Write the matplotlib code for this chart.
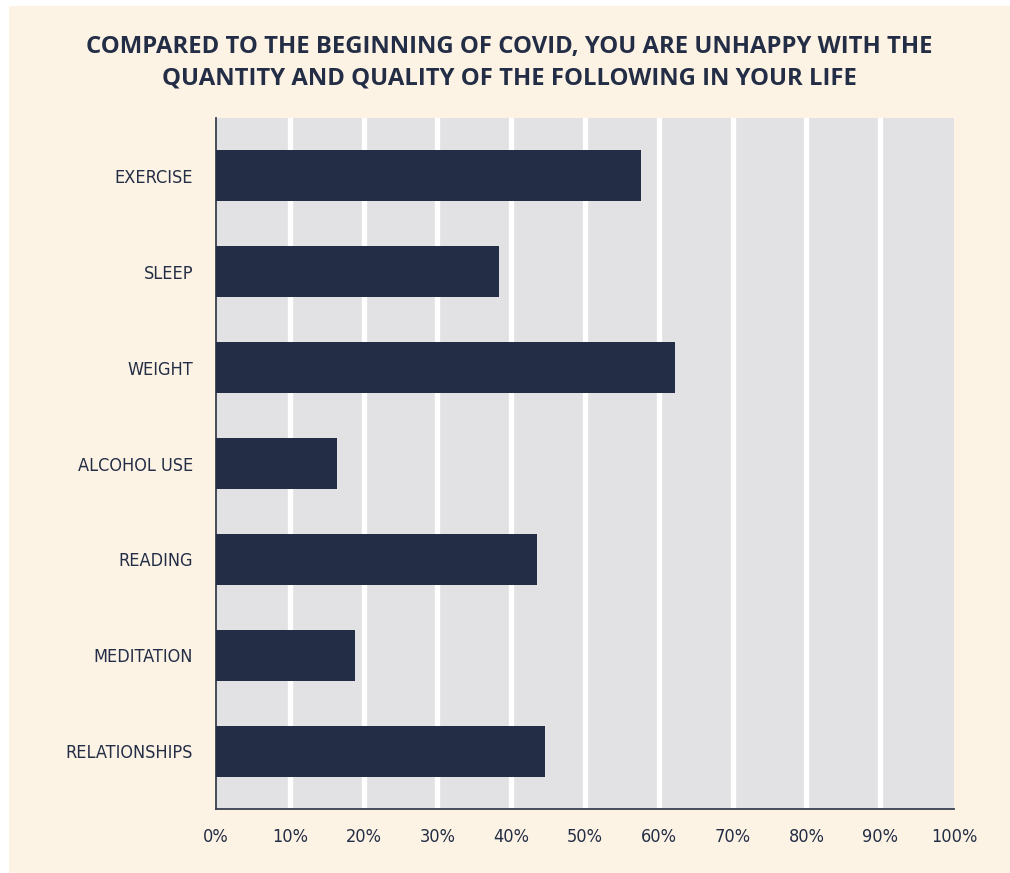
import matplotlib
matplotlib.use("Agg")
import matplotlib.pyplot as plt
from matplotlib.patches import Rectangle

categories = ["EXERCISE", "SLEEP", "WEIGHT", "ALCOHOL USE", "READING", "MEDITATION", "RELATIONSHIPS"]
values = [57.6, 38.3, 62.2, 16.4, 43.5, 18.8, 44.6]
xticks = [0, 10, 20, 30, 40, 50, 60, 70, 80, 90, 100]
title_lines = [
    "COMPARED TO THE BEGINNING OF COVID, YOU ARE UNHAPPY WITH THE",
    "QUANTITY AND QUALITY OF THE FOLLOWING IN YOUR LIFE",
]

NAVY = "#232d45"
CREAM = "#fcf3e5"
GRAY = "#e2e1e4"
NARROW = ["DejaVu Sans", "Liberation Sans"]

W, H = 1010, 873
fig = plt.figure(figsize=(W / 100, H / 100), dpi=100, facecolor="white")
# cream panel behind everything, white sliver on top/left like the source
fig.patches.append(Rectangle((9 / W, 0), 1, 1 - 6 / H, transform=fig.transFigure,
                             facecolor=CREAM, edgecolor="none", zorder=-10))

ax = fig.add_axes([216 / W, 64 / H, (954 - 216) / W, (809 - 118) / H])
ax.set_facecolor(GRAY)

y = list(range(len(categories)))
ax.barh(y, values, height=0.54, color=NAVY, zorder=3)
ax.set_ylim(len(categories) - 0.4, -0.6)
ax.set_xlim(0, 100)

for t in xticks[1:-1]:
    ax.axvline(t, color="white", linewidth=3.8, zorder=1)

ax.set_yticks(y)
ax.set_yticklabels(categories, fontsize=13, family=NARROW, fontstretch="condensed", color=NAVY)
ax.set_xticks(xticks)
ax.set_xticklabels([f"{t}%" for t in xticks], fontsize=13,
                   family=NARROW, fontstretch="condensed", color=NAVY)
ax.tick_params(axis="both", length=0)
ax.tick_params(axis="y", pad=16.5)
ax.tick_params(axis="x", pad=14)

for side in ["top", "right"]:
    ax.spines[side].set_visible(False)
for side in ["left", "bottom"]:
    ax.spines[side].set_color("#3a4050")
    ax.spines[side].set_linewidth(1.3)

fig.text(509 / W, 1 - 47 / H, title_lines[0], ha="center", va="center",
         fontsize=17.2, fontweight="bold", family=["Open Sans", "DejaVu Sans"], color=NAVY)
fig.text(509 / W, 1 - 79 / H, title_lines[1], ha="center", va="center",
         fontsize=17.2, fontweight="bold", family=["Open Sans", "DejaVu Sans"], color=NAVY)

fig.savefig("out.png", dpi=100, facecolor=fig.get_facecolor())
